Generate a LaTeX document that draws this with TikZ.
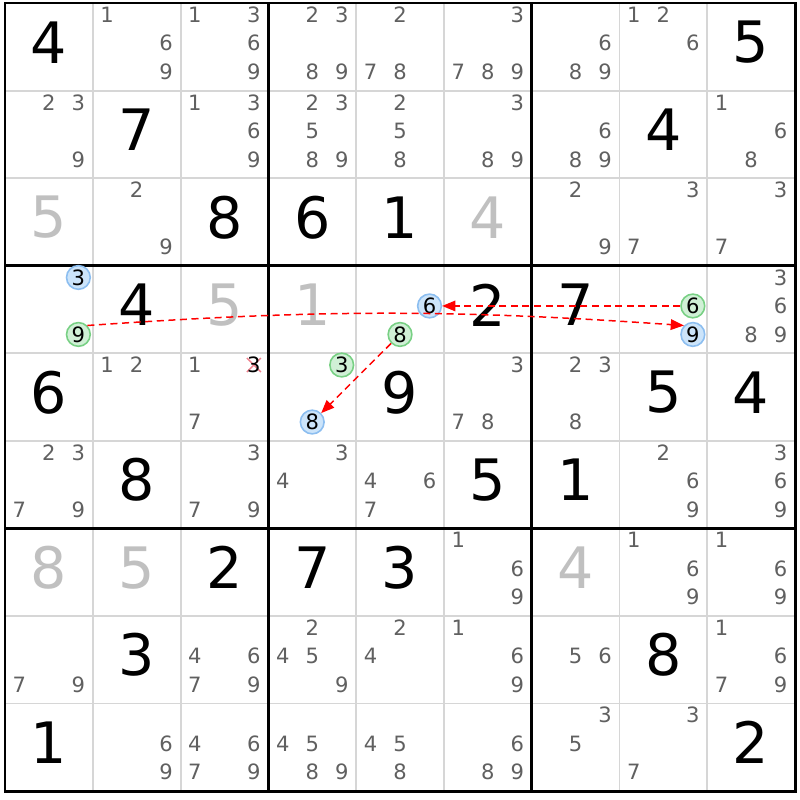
\documentclass[tikz,border=0pt]{standalone}
\usepackage{fontspec}
\setmainfont{DejaVu Sans}
\usetikzlibrary{arrows.meta}
\definecolor{candgray}{RGB}{96,96,96}
\definecolor{givengray}{RGB}{192,192,192}
\definecolor{gridgray}{RGB}{214,214,214}
\definecolor{hlblue}{RGB}{204,228,250}
\definecolor{hlblueline}{RGB}{140,190,240}
\definecolor{hlgreen}{RGB}{208,240,214}
\definecolor{hlgreenline}{RGB}{120,208,132}
\definecolor{crosspink}{RGB}{240,128,140}
\newcommand{\cx}[1]{5+(#1-0.5)*87.78}
\newcommand{\cy}[1]{3+(#1-0.5)*87.56}
\newcommand{\cand}[4]{\node[#4] (r#1c#2n#3) at ({\cx{#2}+(mod(#3-1,3)-1)*29.5},{\cy{#1}+(floor((#3-1)/3)-1)*28.5-3.5}) {#3};}
\begin{document}
\begin{tikzpicture}[x=0.02cm, y=-0.02cm,
	cand/.style={text=candgray, font=\fontsize{12}{13}\selectfont, inner sep=0pt},
	candblue/.style={cand, text=black, circle, draw=hlblueline, fill=hlblue, line width=0.9pt, minimum size=13.5pt},
	candgreen/.style={candblue, draw=hlgreenline, fill=hlgreen},
	bigdig/.style={font=\fontsize{32.5}{34}\selectfont, inner sep=0pt},
	greydig/.style={bigdig, text=givengray},
	thingrid/.style={gridgray, line width=1.1pt},
	thickgrid/.style={black, line width=1.7pt},
	link/.style={red, dash pattern=on 4pt off 2.6pt, line width=0.85pt, -{Triangle[length=7.5pt,width=6pt]}}]
	\useasboundingbox (0,0) rectangle (800,800);
	\fill[white] (0,0) rectangle (800,800);
	\foreach \i in {1,2,4,5,7,8}{
		\draw[thingrid] ({5+\i*87.78},3) -- ({5+\i*87.78},791);
		\draw[thingrid] (5,{3+\i*87.56}) -- (795,{3+\i*87.56});}
	\foreach \i in {3,6}{
		\draw[thickgrid] ({5+\i*87.78},3) -- ({5+\i*87.78},791);
		\draw[thickgrid] (5,{3+\i*87.56}) -- (795,{3+\i*87.56});}
	\draw[thickgrid] (5,3) rectangle (795,791);
	\foreach \r/\c/\d in {1/1/4, 1/9/5, 2/2/7, 2/8/4, 3/3/8, 3/4/6, 3/5/1, 4/2/4, 4/6/2, 4/7/7, 5/1/6, 5/5/9, 5/8/5, 5/9/4, 6/2/8, 6/6/5, 6/7/1, 7/3/2, 7/4/7, 7/5/3, 8/2/3, 8/8/8, 9/1/1, 9/9/2}
		\node[bigdig] (r\r c\c) at ({\cx{\c}},{\cy{\r}-4.5}) {\d};
	\foreach \r/\c/\d in {3/1/5, 3/6/4, 4/3/5, 4/4/1, 7/1/8, 7/2/5, 7/7/4}
		\node[greydig] (r\r c\c) at ({\cx{\c}},{\cy{\r}-4.5}) {\d};
	\foreach \r/\c/\ks in {1/2/{1,6,9}, 1/3/{1,3,6,9}, 1/4/{2,3,8,9}, 1/5/{2,7,8}, 1/6/{3,7,8,9}, 1/7/{6,8,9}, 1/8/{1,2,6},
		2/1/{2,3,9}, 2/3/{1,3,6,9}, 2/4/{2,3,5,8,9}, 2/5/{2,5,8}, 2/6/{3,8,9}, 2/7/{6,8,9}, 2/9/{1,6,8},
		3/2/{2,9}, 3/7/{2,9}, 3/8/{3,7}, 3/9/{3,7}, 4/9/{3,6,8,9},
		5/2/{1,2}, 5/3/{1,7}, 5/6/{3,7,8}, 5/7/{2,3,8},
		6/1/{2,3,7,9}, 6/3/{3,7,9}, 6/4/{3,4}, 6/5/{4,6,7}, 6/8/{2,6,9}, 6/9/{3,6,9},
		7/6/{1,6,9}, 7/8/{1,6,9}, 7/9/{1,6,9},
		8/1/{7,9}, 8/3/{4,6,7,9}, 8/4/{2,4,5,9}, 8/5/{2,4}, 8/6/{1,6,9}, 8/7/{5,6}, 8/9/{1,6,7,9},
		9/2/{6,9}, 9/3/{4,6,7,9}, 9/4/{4,5,8,9}, 9/5/{4,5,8}, 9/6/{6,8,9}, 9/7/{3,5}, 9/8/{3,7}}
		\foreach \k in \ks {\cand{\r}{\c}{\k}{cand}}
	\draw[crosspink, line width=0.8pt] ({\cx{3}+29.5-7},{\cy{5}-32-7}) -- ({\cx{3}+29.5+7},{\cy{5}-32+7})
		({\cx{3}+29.5-7},{\cy{5}-32+7}) -- ({\cx{3}+29.5+7},{\cy{5}-32-7});
	\cand{5}{3}{3}{cand, text=black}
	\cand{4}{1}{3}{candblue}
	\cand{4}{1}{9}{candgreen}
	\cand{4}{5}{6}{candblue}
	\cand{4}{5}{8}{candgreen}
	\cand{4}{8}{6}{candgreen}
	\cand{4}{8}{9}{candblue}
	\cand{5}{4}{3}{candgreen}
	\cand{5}{4}{8}{candblue}
	\draw[link] (r4c1n9.north east) to[bend left=4] (r4c8n9.north west);
	\draw[link] (r4c8n6) -- (r4c5n6);
	\draw[link] (r4c5n8) -- (r5c4n8);
\end{tikzpicture}
\end{document}
